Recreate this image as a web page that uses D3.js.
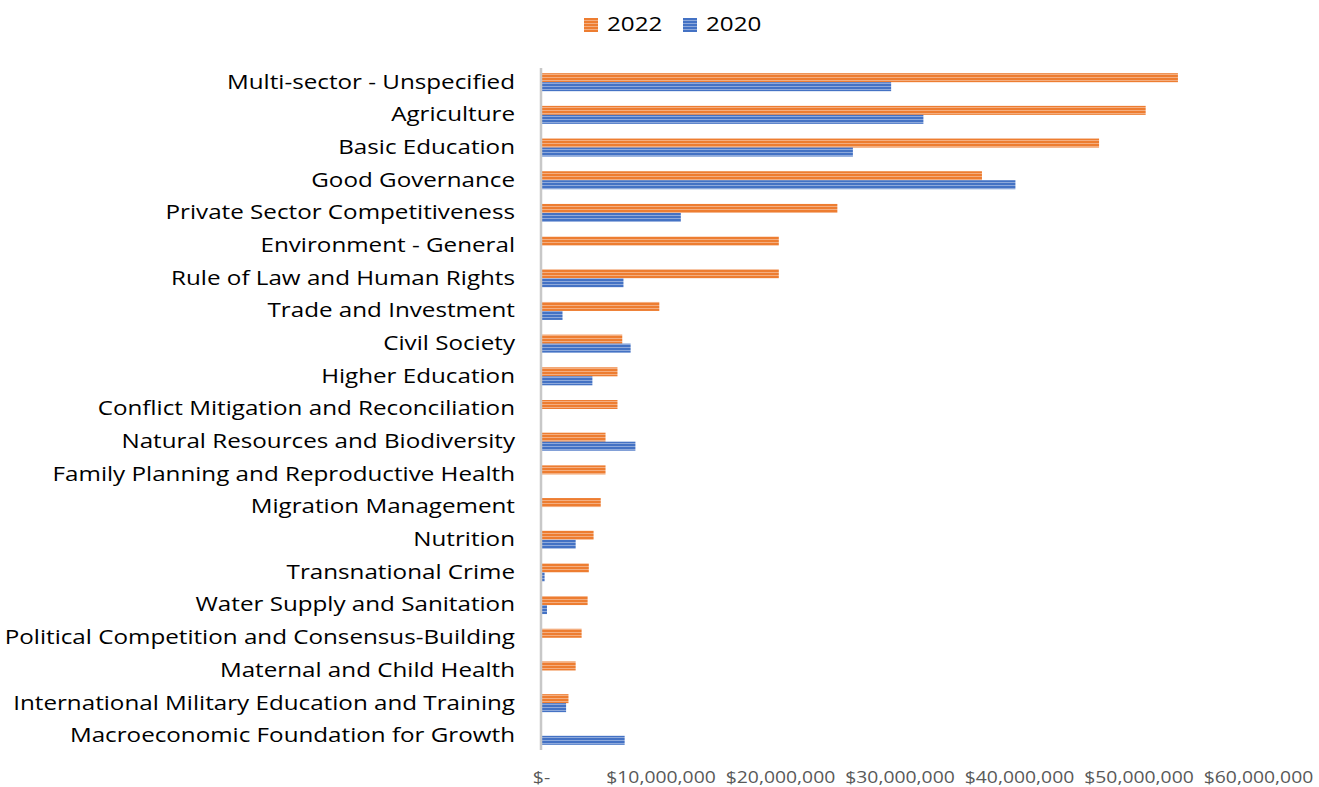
<!DOCTYPE html>
<html><head><meta charset="utf-8">
<script src="https://cdn.jsdelivr.net/npm/d3@7"></script>
<style>body{margin:0;background:#fff;} svg{display:block;}</style>
</head><body>
<svg id="c" width="1319" height="787"></svg>
<script>
const categories = ["Multi-sector - Unspecified","Agriculture","Basic Education","Good Governance","Private Sector Competitiveness","Environment - General","Rule of Law and Human Rights","Trade and Investment","Civil Society","Higher Education","Conflict Mitigation and Reconciliation","Natural Resources and Biodiversity","Family Planning and Reproductive Health","Migration Management","Nutrition","Transnational Crime","Water Supply and Sanitation","Political Competition and Consensus-Building","Maternal and Child Health","International Military Education and Training","Macroeconomic Foundation for Growth"];
const values2022 = [53.3,50.6,46.7,36.9,24.8,19.9,19.9,9.9,6.8,6.4,6.4,5.4,5.4,5.0,4.4,4.0,3.9,3.4,2.9,2.3,0].map(v=>v*1e6);
const values2020 = [29.3,32.0,26.1,39.7,11.7,0,6.9,1.8,7.5,4.3,0,7.9,0,0,2.9,0.3,0.5,0,0,2.1,7.0].map(v=>v*1e6);
const seriesNames = ["2022","2020"];
const tickValues = [0,10e6,20e6,30e6,40e6,50e6,60e6];
const tickLabels = ["$-","$10,000,000","$20,000,000","$30,000,000","$40,000,000","$50,000,000","$60,000,000"];

const SX = 1.21;
const FONT = "'Open Sans', sans-serif";
const svg = d3.select("#c");
const defs = svg.append("defs");
const colors = {"2022":["#ED7D31","#F4AE80"],"2020":["#4472C4","#8EA9DB"]};
seriesNames.forEach(s=>{
  const p = defs.append("pattern").attr("id","pat"+s).attr("patternUnits","userSpaceOnUse")
    .attr("width",8).attr("height",3);
  p.append("rect").attr("width",8).attr("height",3).attr("fill",colors[s][0]);
  p.append("rect").attr("y",2).attr("width",8).attr("height",1).attr("fill",colors[s][1]);
});

const x = d3.scaleLinear().domain([0,60e6]).range([541,1258]);
const y = d3.scaleBand().domain(categories).range([66,752]).paddingInner(0.45).paddingOuter(0.22);
const ys = d3.scaleBand().domain(seriesNames).range([0,y.bandwidth()]);

const data = categories.map((c,i)=>({c, "2022":values2022[i], "2020":values2020[i]}));
const g = svg.append("g");
data.forEach(d=>{
  seriesNames.forEach(s=>{
    if(d[s]>0){
      g.append("rect").attr("x",x(0)).attr("y",y(d.c)+ys(s)).attr("width",x(d[s])-x(0))
       .attr("height",ys.bandwidth()).attr("fill","url(#pat"+s+")");
    }
  });
});

// category axis
const yAxis = d3.axisLeft(y).tickSize(0).tickPadding(26);
const ya = svg.append("g").attr("transform",`translate(${x(0)},0)`).call(yAxis);
ya.select(".domain").remove();
ya.selectAll("text").attr("font-family",FONT).attr("font-size",20).attr("fill","#000")
  .attr("x",-26/SX).attr("transform",`scale(${SX},1)`);
svg.append("line").attr("x1",x(0)).attr("x2",x(0)).attr("y1",68).attr("y2",750)
  .attr("stroke","#c8c8c8").attr("stroke-width",2.5);

// value axis
const xAxis = d3.axisBottom(x).tickValues(tickValues).tickSize(0).tickPadding(0)
  .tickFormat((d,i)=>tickLabels[i]);
const xa = svg.append("g").attr("transform","translate(0,772)").call(xAxis);
xa.select(".domain").remove();
xa.selectAll("text").attr("font-family",FONT).attr("font-size",16).attr("fill","#595959")
  .attr("transform",`scale(${SX},1)`);

// legend
const leg = svg.append("g");
const legX = [584,683];
seriesNames.forEach((s,i)=>{
  leg.append("rect").attr("x",legX[i]).attr("y",18).attr("width",14).attr("height",14).attr("fill","url(#pat"+s+")");
  leg.append("g").attr("transform",`translate(${legX[i]+23},24) scale(${SX},1)`)
    .append("text").attr("dy","0.35em").text(s)
    .attr("font-family",FONT).attr("font-size",20).attr("fill","#000");
});
</script>
</body></html>
